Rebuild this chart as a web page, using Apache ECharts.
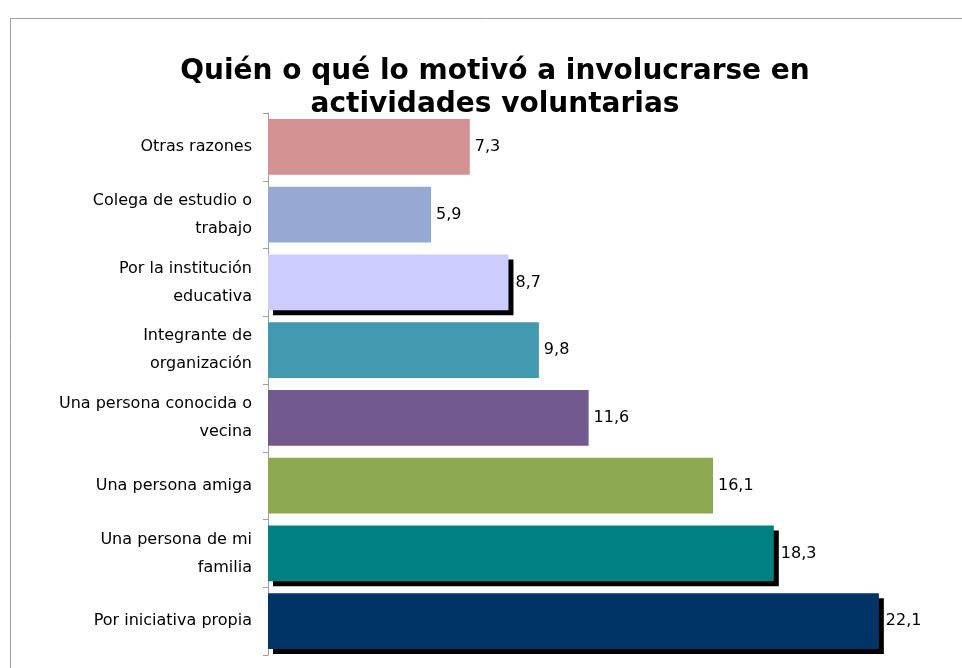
<!DOCTYPE html>
<html>
<head>
<meta charset="utf-8">
<script src="https://cdn.jsdelivr.net/npm/echarts@6/dist/echarts.min.js"></script>
<style>
  html, body { margin: 0; padding: 0; background: #fff; }
  #chart { width: 962px; height: 668px; }
</style>
</head>
<body>
<div id="chart"></div>
<script>
// datos (porcentajes)
const categorias = [
  'Otras razones',
  'Colega de estudio o\ntrabajo',
  'Por la institución\neducativa',
  'Integrante de\norganización',
  'Una persona conocida o\nvecina',
  'Una persona amiga',
  'Una persona de mi\nfamilia',
  'Por iniciativa propia'
]
const valores = [7.3, 5.9, 8.7, 9.8, 11.6, 16.1, 18.3, 22.1]
const colores = ['#d19291', '#95a9d3', '#ccccff', '#4399b0', '#72598e', '#8ca850', '#008080', '#003366']
const conSombra = [false, false, true, false, false, false, true, true]

const chart = echarts.init(document.getElementById('chart'))

const option = {
  backgroundColor: '#fff',
  animation: false,
  textStyle: { fontFamily: 'DejaVu Sans' },
  graphic: [
    {
      type: 'rect',
      shape: { x: 10.5, y: 18.5, width: 970, height: 700 },
      style: { fill: 'none', stroke: '#a0a0a0', lineWidth: 1 },
      z: -1
    }
  ],
  title: {
    text: 'Quién o qué lo motivó a involucrarse en\nactividades voluntarias',
    left: 490,
    textAlign: 'center',
    top: 50,
    textStyle: {
      fontFamily: 'DejaVu Sans',
      fontWeight: 'bold',
      fontSize: 28,
      lineHeight: 33,
      color: '#000'
    }
  },
  grid: {
    left: 268,
    right: 3,
    top: 113,
    bottom: 13
  },
  xAxis: {
    type: 'value',
    min: 0,
    max: 25,
    show: false
  },
  yAxis: {
    type: 'category',
    inverse: true,
    data: categorias,
    axisLine: { show: true, lineStyle: { color: '#a0a0a0' } },
    axisTick: { show: true, length: 5, lineStyle: { color: '#a0a0a0' } },
    axisLabel: {
      color: '#000',
      fontSize: 16,
      lineHeight: 28,
      margin: 16,
      align: 'right'
    }
  },
  series: [
    {
      type: 'bar',
      barCategoryGap: '18%',
      data: valores.map((v, i) => ({
        value: v,
        itemStyle: {
          color: colores[i],
          shadowColor: conSombra[i] ? '#000' : 'transparent',
          shadowBlur: 0,
          shadowOffsetX: conSombra[i] ? 5 : 0,
          shadowOffsetY: conSombra[i] ? 5 : 0
        },
        label: { distance: conSombra[i] ? 7 : 5 }
      })),
      label: {
        show: true,
        position: 'right',
        color: '#000',
        fontSize: 16,
        formatter: p => p.value.toFixed(1).replace('.', ',')
      }
    }
  ]
}

chart.setOption(option)
</script>
</body>
</html>
